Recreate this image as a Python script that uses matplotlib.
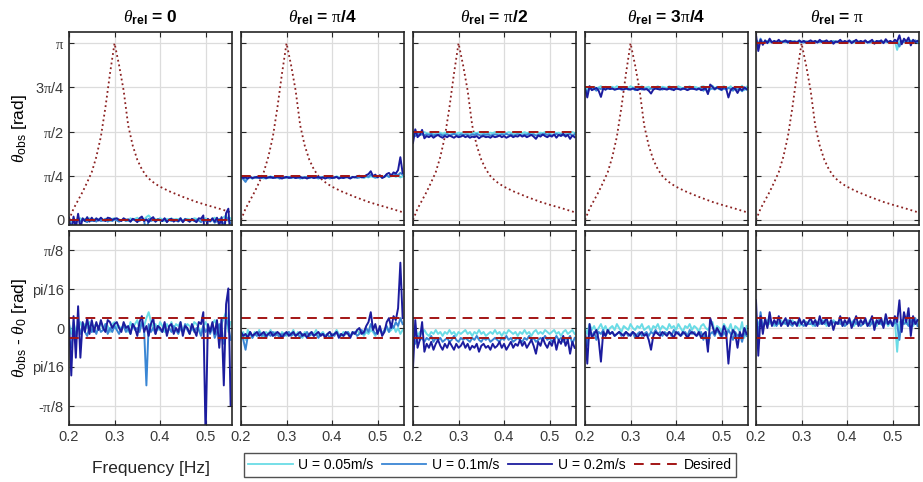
import numpy as np
import matplotlib
matplotlib.use("Agg")
import matplotlib.pyplot as plt
from matplotlib.lines import Line2D

plt.rcParams['font.family'] = ['Liberation Sans', 'DejaVu Sans']
plt.rcParams['mathtext.fontset'] = 'custom'
plt.rcParams['mathtext.rm'] = 'Liberation Serif'
plt.rcParams['mathtext.it'] = 'Liberation Serif:italic'
plt.rcParams['mathtext.bf'] = 'Liberation Sans:bold'
plt.rcParams['mathtext.sf'] = 'Liberation Sans'

# ---------------- data ----------------
freq = np.round(np.arange(0.200, 0.5551, 0.005), 3)  # 72 samples

theta_rel = [0.0, np.pi / 4, np.pi / 2, 3 * np.pi / 4, np.pi]
titles = [r'$\theta_{\mathbf{rel}}$ = 0',
          r'$\theta_{\mathbf{rel}}$ = $\mathrm{\pi}$/4',
          r'$\theta_{\mathbf{rel}}$ = $\mathrm{\pi}$/2',
          r'$\theta_{\mathbf{rel}}$ = 3$\mathrm{\pi}$/4',
          r'$\theta_{\mathbf{rel}}$ = $\mathrm{\pi}$']

desired_band = [0.05, -0.05]

# dotted resonance curve (same in every top panel)
res_f = [0.200, 0.210, 0.220, 0.230, 0.240, 0.250, 0.260, 0.270, 0.280, 0.290,
         0.300, 0.310, 0.320, 0.330, 0.340, 0.350, 0.360, 0.370, 0.380, 0.390,
         0.400, 0.420, 0.450, 0.480, 0.500, 0.530, 0.558]
res_v = [0.00, 0.20, 0.35, 0.50, 0.67, 0.85, 1.12, 1.48, 2.00, 2.60,
         3.14, 2.75, 2.30, 1.68, 1.32, 1.07, 0.90, 0.78, 0.70, 0.64,
         0.59, 0.51, 0.41, 0.32, 0.27, 0.20, 0.13]

# deviations theta_obs - theta_0 [rad]; c = 0.05 m/s, b = 0.1 m/s, n = 0.2 m/s
c1 = [0.02, -0.03, 0.03, -0.02, 0.01, 0.03, -0.01, 0.02, 0.00, 0.03, -0.02, 0.01,
      0.02, 0.00, 0.03, -0.01, 0.02, 0.01, -0.02, 0.02, 0.03, 0.00, 0.01, -0.01,
      0.02, 0.01, -0.02, 0.03, 0.00, 0.02, 0.04, -0.01, 0.03, 0.01, 0.05, 0.08,
      0.03, 0.00, 0.02, -0.01, 0.03, 0.01, -0.02, 0.02, 0.00, 0.03, -0.01, 0.02,
      0.01, 0.03, -0.02, 0.00, 0.02, 0.01, -0.01, 0.03, 0.02, 0.00, -0.02, 0.01,
      0.03, 0.00, -0.02, 0.02, 0.04, 0.01, -0.03, 0.02, 0.05, 0.08, -0.02, 0.03]
b1 = [-0.05, -0.10, 0.00, -0.04, 0.02, -0.03, 0.01, -0.02, -0.04, 0.01, -0.02, 0.00,
      -0.03, 0.01, -0.02, -0.01, 0.02, -0.03, 0.00, -0.02, 0.01, -0.01, -0.03, 0.00,
      0.01, -0.02, 0.00, -0.03, 0.02, -0.01, 0.00, -0.02, 0.03, -0.01, -0.29, 0.02,
      -0.02, 0.00, -0.03, 0.01, -0.01, -0.02, 0.02, -0.03, 0.00, -0.02, 0.01, -0.01,
      -0.03, 0.00, -0.02, 0.02, -0.01, -0.03, 0.01, -0.02, 0.00, -0.01, -0.04, 0.01,
      -0.02, 0.00, -0.03, 0.01, -0.05, -0.02, 0.02, -0.04, -0.08, 0.05, 0.01, -0.06]
n1 = [0.04, -0.24, 0.06, -0.15, 0.11, -0.15, 0.03, -0.02, 0.05, -0.03, 0.04, -0.02,
      0.03, -0.01, 0.04, 0.00, -0.02, 0.04, 0.03, 0.00, 0.02, 0.03, 0.00, -0.02,
      0.03, 0.00, 0.01, -0.03, 0.02, 0.00, -0.04, 0.03, 0.06, -0.02, 0.01, -0.04,
      0.02, 0.05, -0.03, 0.01, 0.00, -0.02, 0.03, -0.04, 0.01, 0.02, -0.03, 0.00,
      -0.02, 0.03, -0.04, 0.01, 0.00, -0.03, 0.02, -0.01, -0.04, 0.03, 0.02, 0.08,
      -0.55, 0.02, -0.02, 0.03, -0.03, 0.04, -0.10, 0.05, -0.29, 0.12, 0.20, -0.39]

c2 = [-0.05, -0.02, -0.06, -0.01, -0.03, -0.05, -0.02, -0.04, -0.01, -0.03, -0.05, -0.02,
      -0.03, -0.01, -0.04, -0.02, -0.03, -0.05, -0.02, -0.03, -0.04, -0.02, -0.03, -0.01,
      -0.04, -0.02, -0.03, -0.05, -0.02, -0.03, -0.04, -0.02, -0.03, -0.01, -0.04, -0.03,
      -0.02, -0.04, -0.03, -0.02, -0.04, -0.03, -0.01, -0.03, -0.04, -0.02, -0.03, -0.02,
      -0.04, -0.02, -0.03, -0.01, -0.03, -0.02, -0.04, -0.02, -0.03, -0.01, -0.02, -0.04,
      -0.02, -0.01, -0.03, -0.02, 0.00, -0.02, -0.01, 0.01, -0.02, 0.00, -0.03, -0.01]
b2 = [-0.03, -0.06, -0.11, -0.04, -0.02, -0.05, -0.03, -0.04, -0.02, -0.04, -0.03, -0.05,
      -0.03, -0.04, -0.02, -0.04, -0.03, -0.05, -0.03, -0.04, -0.03, -0.02, -0.04, -0.03,
      -0.04, -0.03, -0.05, -0.03, -0.04, -0.02, -0.04, -0.03, -0.04, -0.03, -0.05, -0.03,
      -0.03, -0.04, -0.03, -0.05, -0.03, -0.04, -0.02, -0.04, -0.03, -0.04, -0.03, -0.02,
      -0.04, -0.03, -0.02, -0.04, -0.03, -0.01, -0.03, 0.00, -0.02, 0.02, -0.01, -0.03,
      -0.02, 0.00, -0.03, -0.01, 0.01, -0.02, 0.02, 0.00, 0.03, 0.01, 0.05, 0.02]
n2 = [-0.02, -0.04, -0.03, -0.05, -0.02, -0.04, -0.03, -0.02, -0.04, -0.03, -0.02, -0.04,
      -0.03, -0.02, -0.04, -0.03, -0.02, -0.03, -0.05, -0.03, -0.02, -0.04, -0.03, -0.02,
      -0.04, -0.03, -0.02, -0.04, -0.03, -0.05, -0.03, -0.02, -0.04, -0.03, -0.02, -0.04,
      -0.03, -0.05, -0.03, -0.02, -0.04, -0.03, -0.02, -0.05, -0.03, -0.04, -0.02, -0.03,
      -0.05, -0.02, -0.03, -0.01, 0.00, -0.03, -0.02, 0.01, 0.03, 0.08, -0.01, 0.02,
      -0.03, 0.01, -0.04, -0.02, 0.03, 0.05, 0.00, 0.06, 0.04, 0.10, 0.33, 0.05]

c3 = [-0.02, 0.00, -0.04, -0.02, -0.03, -0.01, -0.03, -0.04, -0.02, -0.03, -0.01, -0.03,
      -0.02, -0.04, -0.02, -0.03, -0.01, -0.03, -0.02, -0.04, -0.02, -0.03, -0.02, -0.01,
      -0.03, -0.02, -0.04, -0.02, -0.03, -0.01, -0.03, -0.02, -0.04, -0.03, -0.02, -0.03,
      -0.01, -0.03, -0.02, -0.04, -0.02, -0.03, -0.01, -0.02, -0.03, -0.02, -0.04, -0.02,
      -0.03, -0.01, -0.03, -0.02, -0.04, -0.02, -0.01, -0.03, -0.02, -0.03, -0.01, -0.02,
      -0.03, -0.02, -0.01, -0.03, -0.02, -0.04, -0.02, -0.01, -0.03, -0.02, -0.01, -0.03]
b3 = [-0.05, -0.08, -0.04, -0.06, -0.05, -0.07, -0.05, -0.06, -0.04, -0.07, -0.05, -0.06,
      -0.05, -0.07, -0.06, -0.05, -0.07, -0.06, -0.04, -0.06, -0.07, -0.05, -0.06, -0.05,
      -0.06, -0.07, -0.05, -0.06, -0.04, -0.06, -0.07, -0.05, -0.06, -0.05, -0.07, -0.06,
      -0.05, -0.06, -0.07, -0.05, -0.06, -0.04, -0.06, -0.05, -0.07, -0.06, -0.05, -0.06,
      -0.07, -0.05, -0.06, -0.04, -0.06, -0.05, -0.07, -0.06, -0.05, -0.06, -0.04, -0.06,
      -0.05, -0.07, -0.06, -0.04, -0.06, -0.05, -0.07, -0.05, -0.06, -0.04, -0.08, -0.05]
n3 = [-0.20, 0.04, -0.10, -0.06, 0.03, -0.12, -0.08, -0.10, -0.07, -0.11, -0.08, -0.06,
      -0.09, -0.11, -0.08, -0.10, -0.07, -0.09, -0.11, -0.08, -0.10, -0.09, -0.07, -0.10,
      -0.08, -0.11, -0.09, -0.10, -0.08, -0.12, -0.09, -0.08, -0.10, -0.09, -0.11, -0.08,
      -0.10, -0.09, -0.07, -0.10, -0.08, -0.11, -0.09, -0.07, -0.10, -0.08, -0.09, -0.06,
      -0.09, -0.07, -0.10, -0.08, -0.06, -0.09, -0.13, -0.07, -0.09, -0.05, -0.08, -0.10,
      -0.07, -0.09, -0.05, -0.11, -0.06, -0.08, -0.04, -0.09, -0.06, -0.13, -0.07, -0.10]

c4 = [0.00, -0.03, 0.02, -0.01, 0.01, -0.02, 0.00, 0.02, -0.01, 0.01, -0.02, 0.00,
      0.01, -0.01, 0.02, 0.00, -0.02, 0.01, 0.00, -0.01, 0.02, 0.00, -0.01, 0.01,
      0.00, 0.02, -0.01, 0.00, 0.01, -0.02, 0.01, 0.00, 0.02, -0.01, 0.01, 0.00,
      -0.01, 0.02, 0.00, 0.01, -0.01, 0.02, 0.00, -0.02, 0.01, 0.00, 0.02, -0.01,
      0.01, 0.00, -0.02, 0.01, 0.02, 0.00, -0.01, 0.01, 0.03, -0.02, 0.01, 0.00,
      -0.02, 0.02, 0.00, -0.01, 0.02, -0.03, 0.01, 0.00, -0.02, 0.03, -0.05, 0.01]
b4 = [-0.03, -0.09, -0.01, -0.04, -0.02, -0.06, -0.02, -0.03, -0.01, -0.04, -0.02, -0.03,
      -0.02, -0.04, -0.03, -0.02, -0.04, -0.03, -0.02, -0.04, -0.03, -0.02, -0.05, -0.03,
      -0.02, -0.04, -0.03, -0.02, -0.04, -0.02, -0.03, -0.01, -0.03, -0.02, -0.04, -0.02,
      -0.03, -0.02, -0.04, -0.01, -0.03, -0.02, -0.04, -0.03, -0.02, -0.04, -0.01, -0.03,
      -0.02, -0.04, -0.03, -0.02, -0.06, -0.02, -0.09, -0.03, -0.02, -0.04, -0.01, -0.03,
      -0.05, -0.02, -0.04, -0.01, -0.03, -0.06, -0.02, -0.04, -0.03, -0.07, -0.02, -0.04]
n4 = [-0.02, -0.18, 0.02, -0.05, -0.03, -0.01, -0.06, -0.17, -0.02, -0.04, -0.01, -0.03,
      -0.02, -0.04, -0.03, -0.02, -0.03, -0.04, -0.02, -0.03, -0.04, -0.02, -0.03, -0.05,
      -0.03, -0.02, -0.04, -0.03, -0.06, -0.11, -0.04, -0.02, -0.03, -0.04, -0.02, -0.03,
      -0.04, -0.02, -0.03, -0.05, -0.02, -0.03, -0.04, -0.02, -0.03, -0.05, -0.03, -0.02,
      -0.03, -0.04, -0.02, -0.05, -0.03, -0.02, -0.12, 0.05, 0.01, -0.03, 0.00, -0.02,
      -0.04, 0.01, -0.02, -0.18, -0.05, -0.01, -0.03, -0.10, -0.02, -0.05, 0.00, -0.03]

c5 = [0.05, 0.02, 0.04, 0.01, 0.03, 0.04, 0.02, 0.03, 0.01, 0.03, 0.02, 0.04,
      0.02, 0.03, 0.01, 0.03, 0.04, 0.02, 0.03, 0.01, 0.02, 0.04, 0.03, 0.02,
      0.03, 0.01, 0.04, 0.02, 0.03, 0.02, 0.04, 0.01, 0.03, 0.02, 0.04, 0.03,
      0.02, 0.04, 0.01, 0.03, 0.02, 0.04, 0.03, 0.01, 0.03, 0.02, 0.04, 0.02,
      0.03, 0.01, 0.04, 0.02, 0.03, 0.01, 0.04, 0.02, 0.03, 0.04, 0.01, 0.03,
      0.02, 0.04, -0.12, 0.03, 0.01, 0.04, 0.02, 0.03, 0.05, 0.01, 0.03, 0.02]
b5 = [0.06, -0.04, 0.08, 0.00, 0.03, 0.01, 0.04, 0.02, 0.03, 0.01, 0.03, 0.02,
      0.03, 0.02, 0.04, 0.02, 0.01, 0.03, 0.02, 0.03, 0.02, 0.01, 0.03, 0.02,
      0.02, 0.03, 0.01, 0.03, 0.02, 0.04, 0.02, 0.03, 0.01, 0.02, 0.03, 0.02,
      0.03, 0.02, 0.03, 0.01, 0.02, 0.03, 0.02, 0.04, 0.02, 0.03, 0.01, 0.02,
      0.03, 0.02, 0.01, 0.03, 0.02, 0.03, 0.04, 0.02, 0.01, 0.03, 0.02, 0.03,
      0.01, 0.03, 0.02, -0.06, 0.04, 0.02, 0.03, 0.01, 0.04, 0.02, 0.05, 0.01]
n5 = [0.14, -0.14, 0.06, -0.03, 0.05, 0.00, 0.08, 0.01, 0.04, 0.02, 0.06, 0.01,
      0.03, 0.05, 0.01, 0.04, 0.02, 0.03, 0.01, 0.05, 0.02, 0.04, 0.01, 0.03,
      0.05, 0.02, 0.04, 0.01, 0.06, 0.02, 0.03, 0.05, 0.01, 0.04, -0.01, 0.03,
      0.02, 0.06, 0.01, 0.04, 0.02, 0.05, 0.00, 0.03, 0.06, 0.01, 0.04, 0.02,
      0.05, 0.01, 0.03, 0.06, -0.01, 0.04, 0.02, 0.05, 0.00, 0.07, 0.02, 0.04,
      0.01, 0.06, 0.03, 0.14, -0.02, 0.08, 0.03, 0.10, -0.04, 0.06, 0.02, 0.04]

series = [(c1, b1, n1), (c2, b2, n2), (c3, b3, n3), (c4, b4, n4), (c5, b5, n5)]
speed_labels = ['U = 0.05m/s', 'U = 0.1m/s', 'U = 0.2m/s']
desired_label = 'Desired'

top_ticks = [0, np.pi / 4, np.pi / 2, 3 * np.pi / 4, np.pi]
top_ticklabels = ['0', r'$\mathrm{\pi}$/4', r'$\mathrm{\pi}$/2', r'3$\mathrm{\pi}$/4', r'$\mathrm{\pi}$']
bot_ticks = [-np.pi / 8, -np.pi / 16, 0, np.pi / 16, np.pi / 8]
bot_ticklabels = [r'-$\mathrm{\pi}$/8', 'pi/16', '0', 'pi/16', r'$\mathrm{\pi}$/8']
x_ticks = [0.2, 0.3, 0.4, 0.5]

# ---------------- style ----------------
colors = ['#6ADCE6', '#3A86D4', '#1C1C9E']
red = '#A31515'
dot_red = '#8B2020'
W, H = 923, 482

fig = plt.figure(figsize=(W / 100, H / 100), dpi=100)

col_left = [69, 241, 413, 585, 756]
pw = 163
top_y0, top_y1 = 32, 225
bot_y0, bot_y1 = 231, 425


def add_ax(xl, y0, y1):
    return fig.add_axes([xl / W, 1 - y1 / H, pw / W, (y1 - y0) / H])


def style(ax):
    ax.set_xlim(0.2, 0.558)
    ax.set_xticks(x_ticks)
    ax.grid(True, color='#dcdcdc', lw=0.9)
    ax.set_axisbelow(True)
    ax.tick_params(direction='in', top=True, right=True, length=3.5, width=0.8,
                   colors='#262626', labelsize=10.5, labelcolor='#3a3a3a')
    for s in ax.spines.values():
        s.set_linewidth(1.2)
        s.set_color('#262626')


for k in range(5):
    c, b, n = series[k]
    # top row
    ax = add_ax(col_left[k], top_y0, top_y1)
    style(ax)
    ax.plot(res_f, res_v, ls=':', color=dot_red, lw=1.3)
    for arr, col in zip((c, b, n), colors):
        ax.plot(freq, theta_rel[k] + np.array(arr), color=col, lw=1.4)
    ax.axhline(theta_rel[k], color=red, ls=(0, (5, 3.5)), lw=1.4)
    ax.set_ylim(-0.09, 3.34)
    ax.set_yticks(top_ticks)
    ax.set_xticklabels([])
    if k == 0:
        ax.set_yticklabels(top_ticklabels)
        ax.set_ylabel(r'$\theta_{\mathsf{obs}}$ [rad]', fontsize=12.5, labelpad=4)
    else:
        ax.set_yticklabels([])
    ax.set_title(titles[k], fontsize=12.5, fontweight='bold', pad=7)

    # bottom row
    ax = add_ax(col_left[k], bot_y0, bot_y1)
    style(ax)
    for arr, col in zip((c, b, n), colors):
        ax.plot(freq, arr, color=col, lw=1.4)
    for d in desired_band:
        ax.axhline(d, color=red, ls=(0, (5, 3.5)), lw=1.4)
    ax.set_ylim(-0.49, 0.49)
    ax.set_yticks(bot_ticks)
    ax.set_xticklabels([f'{v:.1f}' for v in x_ticks])
    if k == 0:
        ax.set_yticklabels(bot_ticklabels)
        ax.set_ylabel(r'$\theta_{\mathsf{obs}}$ - $\theta_{\mathsf{0}}$ [rad]', fontsize=12.5, labelpad=2)
        ax.set_xlabel('Frequency [Hz]', fontsize=12.5, color='#262626', labelpad=12)
    else:
        ax.set_yticklabels([])

handles = [Line2D([], [], color=col, lw=1.3) for col in colors]
handles.append(Line2D([], [], color=red, ls=(0, (5, 3.5)), lw=1.4))
leg = fig.legend(handles, speed_labels + [desired_label], loc='center',
                 bbox_to_anchor=(490 / W, 1 - 465 / H), ncol=4, fontsize=10,
                 frameon=True, fancybox=False, edgecolor='#262626',
                 handlelength=3.2, handletextpad=0.4, columnspacing=0.6,
                 borderpad=0.35, borderaxespad=0)
leg.get_frame().set_linewidth(1.0)

fig.savefig('out.png', dpi=100)
